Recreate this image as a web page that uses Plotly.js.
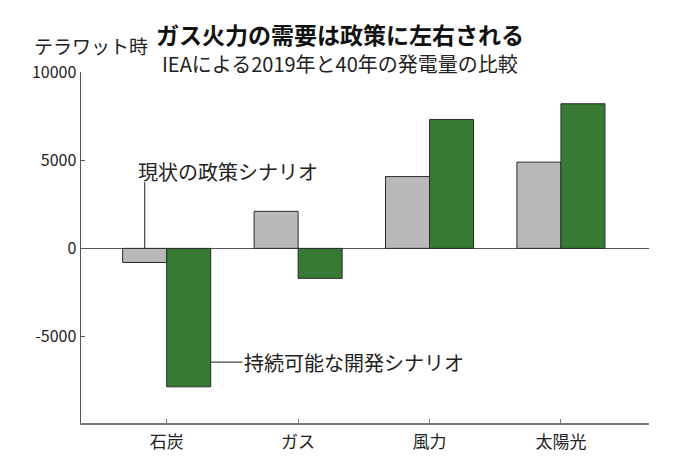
<!DOCTYPE html>
<html>
<head>
<meta charset="utf-8">
<script src="https://cdn.plot.ly/plotly-3.0.1.min.js"></script>
<style>
html,body{margin:0;padding:0;background:#fff;}
#chart{width:681px;height:465px;}
</style>
</head>
<body>
<div id="chart"></div>
<script>
// ---- data (terawatt-hours, change 2019 -> 2040) ----
const categories = ["石炭", "ガス", "風力", "太陽光"];
const statedPolicies = [-800, 2100, 4070, 4890];       // 現状の政策シナリオ
const sustainableDev = [-7850, -1700, 7310, 8200];      // 持続可能な開発シナリオ
const seriesNames = ["現状の政策シナリオ", "持続可能な開発シナリオ"];
const yTickVals = [10000, 5000, 0, -5000];
const yTickText = ["10000", "5000", "0", "-5000"];
const titleText = "ガス火力の需要は政策に左右される";
const subtitleText = "IEAによる2019年と40年の発電量の比較";
const unitText = "テラワット時";

const FONT = "'Noto Sans CJK JP', 'Noto Sans', sans-serif";
const bargap = 0.33;
const barW = (1 - bargap) / 2;
const grayCenter = 0 - barW / 2;      // centre of first grey bar
const greenRight = 0 + barW;          // right edge of first green bar

const traces = [
  {
    type: "bar", name: seriesNames[0], x: categories, y: statedPolicies,
    marker: {color: "#b9b9b9", line: {color: "#2b2b2b", width: 1}},
    hoverinfo: "none"
  },
  {
    type: "bar", name: seriesNames[1], x: categories, y: sustainableDev,
    marker: {color: "#367a34", line: {color: "#2b2b2b", width: 1}},
    hoverinfo: "none"
  }
];

const layout = {
  width: 681, height: 465,
  margin: {l: 81, r: 32, t: 72, b: 42},
  paper_bgcolor: "#fff", plot_bgcolor: "#fff",
  showlegend: false,
  barmode: "group", bargap: bargap, bargroupgap: 0,
  font: {family: FONT, color: "#222", size: 16},
  title: {
    text: "<b>" + titleText + "</b>",
    font: {family: FONT, size: 23, color: "#111"},
    x: 340 / 681, xanchor: "center", xref: "container",
    y: 1 - 36 / 465, yanchor: "middle", yref: "container"
  },
  xaxis: {
    type: "category",
    range: [-0.652, 3.67],
    showline: true, linecolor: "#7a7a7a", linewidth: 1.5,
    ticks: "inside", ticklen: 4, tickcolor: "#7a7a7a", tickwidth: 1,
    tickfont: {family: FONT, size: 17, color: "#222"},
    ticklabelstandoff: 3,
    showgrid: false, zeroline: false, fixedrange: true
  },
  yaxis: {
    range: [-9900, 10000],
    tickvals: yTickVals, ticktext: yTickText,
    showline: true, linecolor: "#555", linewidth: 1.5,
    ticks: "inside", ticklen: 4, tickcolor: "#555", tickwidth: 1,
    tickfont: {family: FONT, size: 16, color: "#222"},
    showgrid: false,
    zeroline: true, zerolinecolor: "#555", zerolinewidth: 1.5,
    fixedrange: true
  },
  shapes: [
    {type: "line", xref: "x", yref: "y", x0: grayCenter, x1: grayCenter, y0: 0, y1: 3750,
     line: {color: "#444", width: 1.2}},
    {type: "line", xref: "x", yref: "y", x0: greenRight, x1: 0.575, y0: -6450, y1: -6450,
     line: {color: "#444", width: 1.2}}
  ],
  annotations: [
    {text: unitText, xref: "paper", yref: "paper", x: -49 / 568, y: (423 - 45) / 351,
     xanchor: "left", yanchor: "middle", showarrow: false,
     font: {family: FONT, size: 19, color: "#222"}},
    {text: subtitleText, xref: "paper", yref: "paper", x: (340 - 81) / 568, y: (423 - 63) / 351,
     xanchor: "center", yanchor: "middle", showarrow: false,
     font: {family: FONT, size: 20, color: "#222"}},
    {text: seriesNames[0], xref: "x", yref: "y", x: -0.232, y: 4375,
     xanchor: "left", yanchor: "middle", showarrow: false,
     font: {family: FONT, size: 20, color: "#222"}},
    {text: seriesNames[1], xref: "x", yref: "y", x: 0.575, y: -6450,
     xanchor: "left", yanchor: "middle", showarrow: false,
     font: {family: FONT, size: 20, color: "#222"}}
  ]
};

Plotly.newPlot("chart", traces, layout, {displayModeBar: false, staticPlot: true});
</script>
</body>
</html>
